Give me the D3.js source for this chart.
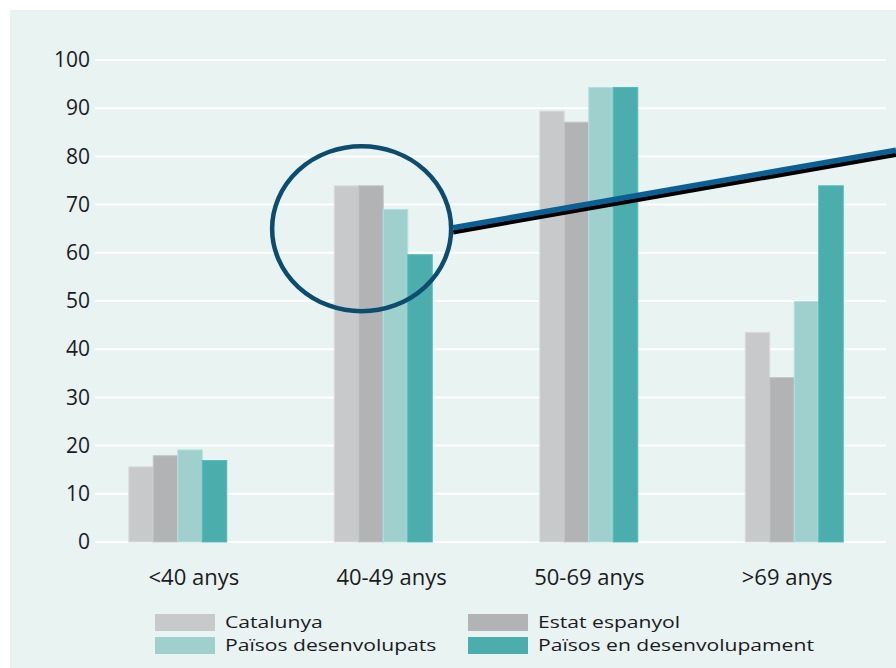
<!DOCTYPE html>
<html>
<head>
<meta charset="utf-8">
<script src="https://cdn.jsdelivr.net/npm/d3@7"></script>
<style>
  html, body { margin: 0; padding: 0; background: #ffffff; }
  svg { display: block; }
  text { font-family: "Open Sans", "Noto Sans", sans-serif; fill: #1b1b1e; }
</style>
</head>
<body>
<svg id="chart" width="896" height="668"></svg>
<script>
// Age groups and the four series (percent)
const categories = ["<40 anys", "40-49 anys", "50-69 anys", ">69 anys"];
const seriesNames = ["Catalunya", "Estat espanyol", "Països desenvolupats", "Països en desenvolupament"];
const catalunya = [15.6, 73.9, 89.4, 43.5];
const estatEspanyol = [17.9, 73.9, 87.1, 34.1];
const paisosDesenvolupats = [19.1, 69.0, 94.3, 49.9];
const paisosEnDesenvolupament = [16.9, 59.6, 94.3, 73.9];
const yTicks = [0, 10, 20, 30, 40, 50, 60, 70, 80, 90, 100];
const highlightedGroup = "40-49 anys";

const seriesValues = [catalunya, estatEspanyol, paisosDesenvolupats, paisosEnDesenvolupament];
const colors = ["#c8c9cb", "#b2b3b5", "#9fd0ce", "#4badac"];

const svg = d3.select("#chart");
const W = 896, H = 668;

// light panel behind the chart
svg.append("rect")
  .attr("x", 10).attr("y", 10)
  .attr("width", W - 10).attr("height", H - 10)
  .attr("fill", "#e9f3f1");

const plot = { left: 95, right: 886, top: 60, bottom: 542 };

const y = d3.scaleLinear().domain([0, 100]).range([plot.bottom, plot.top]);
// label positions
const x0 = d3.scaleBand().domain(categories).range([plot.left, plot.right]).padding(0);
// bar-group positions (slightly wider spread than the labels)
const xGroups = d3.scaleBand().domain(categories).range([75, 897]).padding(0);
const groupWidth = 98;
const x1 = d3.scaleBand().domain(seriesNames).range([0, groupWidth]).padding(0);

// horizontal gridlines
svg.append("g")
  .selectAll("line")
  .data(yTicks)
  .join("line")
  .attr("x1", plot.left).attr("x2", plot.right)
  .attr("y1", d => y(d)).attr("y2", d => y(d))
  .attr("stroke", "#ffffff")
  .attr("stroke-width", 2);

// y-axis labels
const yAxis = d3.axisLeft(y).tickValues(yTicks).tickSize(0).tickPadding(0);
const yg = svg.append("g")
  .attr("transform", `translate(${plot.left - 5},0)`)
  .call(yAxis);
yg.select(".domain").remove();
yg.selectAll("text")
  .attr("font-size", 21)
  .attr("font-family", "'Open Sans', sans-serif")
  .attr("fill", "#1b1b1e");

// bars
const rows = categories.map((c, i) => ({
  cat: c,
  vals: seriesNames.map((s, j) => ({ series: s, value: seriesValues[j][i], color: colors[j] }))
}));

const groups = svg.append("g")
  .selectAll("g")
  .data(rows)
  .join("g")
  .attr("transform", d => `translate(${xGroups(d.cat) + xGroups.bandwidth() / 2 - groupWidth / 2},0)`);

groups.selectAll("rect")
  .data(d => d.vals)
  .join("rect")
  .attr("x", d => x1(d.series))
  .attr("y", d => y(d.value))
  .attr("width", x1.bandwidth())
  .attr("height", d => y(0) - y(d.value))
  .attr("fill", d => d.color)
  .attr("stroke", d => d3.color(d.color).brighter(0.25))
  .attr("stroke-width", 1);

// x-axis labels
const xAxis = d3.axisBottom(x0).tickSize(0).tickPadding(0);
const xg = svg.append("g")
  .attr("transform", `translate(0,${plot.bottom + 43})`)
  .call(xAxis);
xg.select(".domain").remove();
xg.selectAll("text")
  .attr("dy", 0)
  .attr("font-size", 22)
  .attr("font-family", "'Open Sans', sans-serif")
  .attr("fill", "#1b1b1e");

// highlight ring around the 40-49 group, with a pointer line running off to the right
const gx = x0(highlightedGroup) + x0.bandwidth() / 2;
const ring = { cx: gx - 30, cy: y(65), rx: 89.5, ry: 82.5 };
const startX = ring.cx + ring.rx + 2;
const endX = W;
const lineY0 = ring.cy - 1, lineY1 = y(81.3);

svg.append("line")
  .attr("x1", startX).attr("y1", lineY0 + 4.5)
  .attr("x2", endX).attr("y2", lineY1 + 4.5)
  .attr("stroke", "#000000").attr("stroke-width", 4.5);
svg.append("line")
  .attr("x1", startX).attr("y1", lineY0)
  .attr("x2", endX).attr("y2", lineY1)
  .attr("stroke", "#0b5f93").attr("stroke-width", 5.5);

svg.append("ellipse")
  .attr("cx", ring.cx).attr("cy", ring.cy)
  .attr("rx", ring.rx).attr("ry", ring.ry)
  .attr("fill", "none")
  .attr("stroke", "#0b4c6f")
  .attr("stroke-width", 4.5);

// legend, two columns
const legend = svg.append("g").attr("class", "legend");
const legendCols = [155, 468];
const legendRows = [622, 645];
const items = legend.selectAll("g")
  .data(seriesNames.map((s, i) => ({ name: s, color: colors[i], i })))
  .join("g")
  .attr("transform", d => `translate(${legendCols[d.i % 2]},${legendRows[Math.floor(d.i / 2)]})`);

items.append("rect")
  .attr("x", 0).attr("y", -8)
  .attr("width", 60).attr("height", 17)
  .attr("fill", d => d.color);

items.append("text")
  .attr("transform", "translate(70,0) scale(1.25,1)")
  .attr("dy", "0.35em")
  .attr("font-size", 16.9)
  .text(d => d.name);
</script>
</body>
</html>
